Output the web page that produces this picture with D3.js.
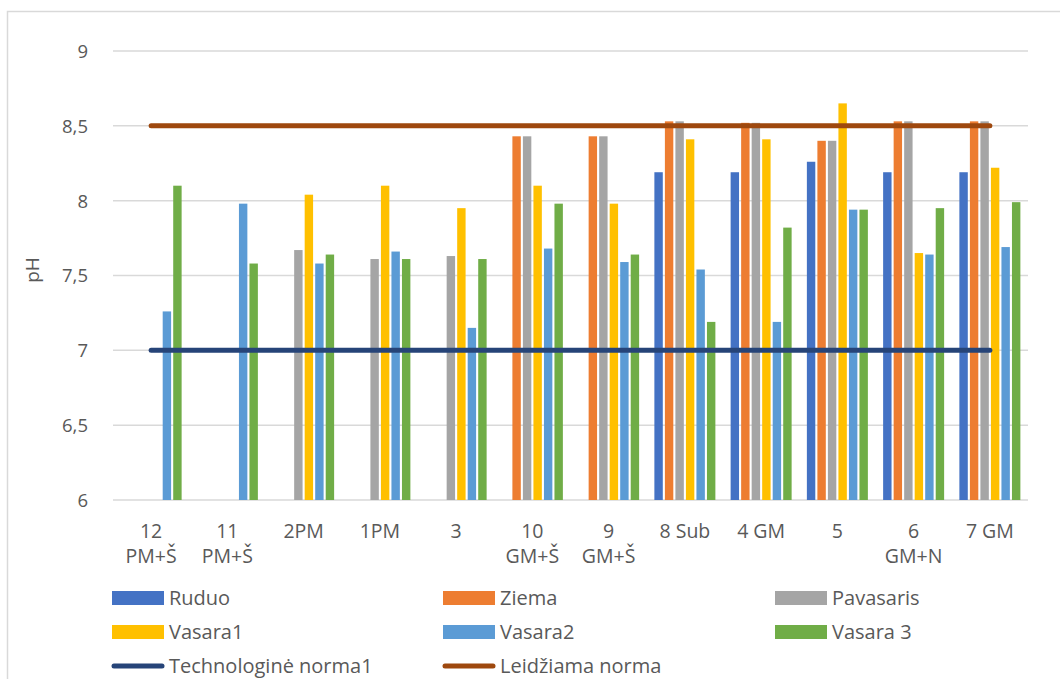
<!DOCTYPE html>
<html><head><meta charset="utf-8">
<script src="https://cdn.jsdelivr.net/npm/d3@7"></script>
<style>body{margin:0;background:#fff}</style>
</head><body>
<svg id="c" width="1060" height="679"></svg>
<script>
const categories = [["12","PM+Š"],["11","PM+Š"],["2PM"],["1PM"],["3"],["10","GM+Š"],["9","GM+Š"],["8 Sub"],["4 GM"],["5"],["6","GM+N"],["7 GM"]];
const seriesNames = ["Ruduo","Ziema","Pavasaris","Vasara1","Vasara2","Vasara 3"];
const ruduo    = [null,null,null,null,null,null,null,8.19,8.19,8.26,8.19,8.19];
const ziema    = [null,null,null,null,null,8.43,8.43,8.53,8.52,8.40,8.53,8.53];
const pavasaris= [null,null,7.67,7.61,7.63,8.43,8.43,8.53,8.52,8.40,8.53,8.53];
const vasara1  = [null,null,8.04,8.10,7.95,8.10,7.98,8.41,8.41,8.65,7.65,8.22];
const vasara2  = [7.26,7.98,7.58,7.66,7.15,7.68,7.59,7.54,7.19,7.94,7.64,7.69];
const vasara3  = [8.10,7.58,7.64,7.61,7.61,7.98,7.64,7.19,7.82,7.94,7.95,7.99];
const technologineNorma = [7,7,7,7,7,7,7,7,7,7,7,7];
const leidziamaNorma = [8.5,8.5,8.5,8.5,8.5,8.5,8.5,8.5,8.5,8.5,8.5,8.5];
const yTicks = [6,6.5,7,7.5,8,8.5,9];
const lineNames = ["Technologinė norma1","Leidžiama norma"];

(function(){
const colors = ["#4472C4","#ED7D31","#A5A5A5","#FFC000","#5B9BD5","#70AD47"];
const lineColors = ["#264478","#9E480E"];
const series = [ruduo,ziema,pavasaris,vasara1,vasara2,vasara3];

const svg = d3.select("#c");
const fontAxis = "'Open Sans', sans-serif";
const fontLeg = "'Open Sans', sans-serif";

svg.append("path").attr("d","M7.5,679 V11.5 H1060").attr("fill","none").attr("stroke","#d9d9d9").attr("stroke-width",1.5);

const pL=113,pR=1028,pT=51,pB=500;
const idx = categories.map((d,i)=>i);
const x = d3.scaleBand().domain(idx).range([pL,pR]).paddingInner(0.2).paddingOuter(0.1);
const x0 = d3.scaleBand().domain(idx).range([pL,pR]);
const xs = d3.scaleBand().domain(d3.range(6)).range([0,x.bandwidth()]).paddingInner(0.2);
const y = d3.scaleLinear().domain([6,9]).range([pB,pT]);

svg.append("g").selectAll("line").data(yTicks).join("line")
  .attr("x1",pL).attr("x2",pR).attr("y1",d=>y(d)).attr("y2",d=>y(d))
  .attr("stroke","#d9d9d9").attr("stroke-width",1.5);

const yAxis = d3.axisLeft(y).tickValues(yTicks).tickSize(0).tickPadding(0)
  .tickFormat(d=>String(d).replace(".",","));
const ga = svg.append("g").attr("transform",`translate(88,0)`).call(yAxis);
ga.select(".domain").remove();
ga.selectAll("text").attr("font-family",fontAxis).attr("font-size",18.5).attr("fill","#595959").attr("dy","0.35em");

svg.append("text").attr("transform","translate(39,270) rotate(-90)").attr("text-anchor","middle")
  .attr("font-family",fontAxis).attr("font-size",19).attr("fill","#595959").text("pH");

series.forEach((s,si)=>{
  svg.append("g").selectAll("rect").data(s.map((v,i)=>({v,i})).filter(d=>d.v!=null)).join("rect")
    .attr("x",d=>x(d.i)+xs(si)).attr("width",xs.bandwidth())
    .attr("y",d=>y(d.v)).attr("height",d=>y(6)-y(d.v))
    .attr("fill",colors[si]);
});

const gx = svg.append("g");
categories.forEach((c,i)=>{
  const t = gx.append("text").attr("x",x0(i)+x0.bandwidth()/2).attr("y",538).attr("text-anchor","middle")
    .attr("font-family",fontAxis).attr("font-size",19.5).attr("fill","#595959");
  c.forEach((s,k)=>t.append("tspan").attr("x",x0(i)+x0.bandwidth()/2).attr("dy",k?25:0).text(s));
});

[technologineNorma,leidziamaNorma].forEach((s,li)=>{
  const line = d3.line().x((d,i)=>x0(i)+x0.bandwidth()/2).y(d=>y(d));
  svg.append("path").attr("d",line(s)).attr("fill","none").attr("stroke",lineColors[li])
    .attr("stroke-width",5).attr("stroke-linecap","round");
});

const colX=[112,443,775];
const leg = svg.append("g");
seriesNames.forEach((n,i)=>{
  const cx=colX[i%3], cy=[598,632][Math.floor(i/3)];
  leg.append("rect").attr("x",cx).attr("y",cy-7).attr("width",52).attr("height",14).attr("fill",colors[i]);
  leg.append("text").attr("x",cx+57).attr("y",cy).attr("dy","0.35em").attr("font-family",fontLeg)
    .attr("font-size",20).attr("fill","#595959").text(n);
});
lineNames.forEach((n,i)=>{
  const cx=colX[i], cy=666;
  leg.append("line").attr("x1",cx+2).attr("x2",cx+50).attr("y1",cy).attr("y2",cy)
    .attr("stroke",lineColors[i]).attr("stroke-width",5).attr("stroke-linecap","round");
  leg.append("text").attr("x",cx+57).attr("y",cy).attr("dy","0.35em").attr("font-family",fontLeg)
    .attr("font-size",20).attr("fill","#595959").text(n);
});
})();
</script>
</body></html>
